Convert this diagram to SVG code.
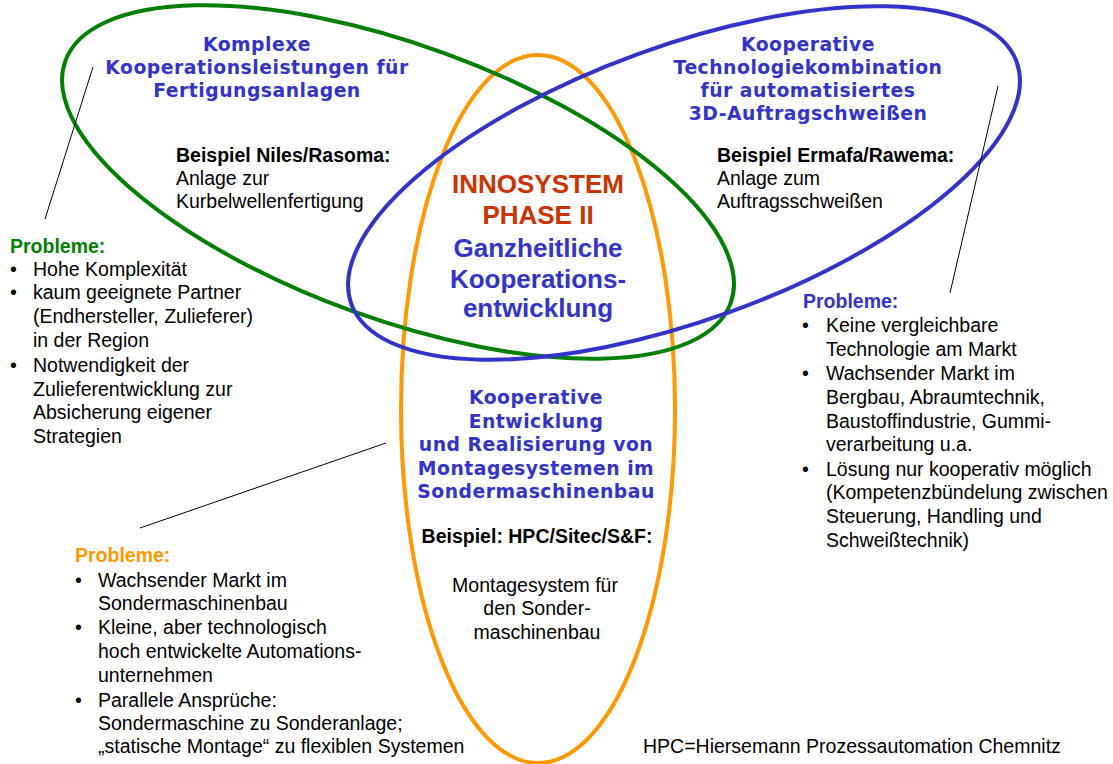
<svg xmlns="http://www.w3.org/2000/svg" width="1113" height="764" viewBox="0 0 1113 764">
<style>
.bg{fill:#ffffff}
.ell{fill:none;stroke-width:4}
.g{stroke:#008000}
.b{stroke:#3333cc}
.o{stroke:#ff9900}
.ln{stroke:#000000;stroke-width:1;fill:none}
.t{font-family:"Liberation Sans",Arial,sans-serif;font-size:19.5px;fill:#000000}
.tb{font-family:"Liberation Sans",Arial,sans-serif;font-size:19.5px;font-weight:bold;fill:#000000}
.ti{font-family:"DejaVu Sans",Verdana,sans-serif;font-size:18.8px;font-weight:bold;fill:#3333cc;letter-spacing:0.5px;text-anchor:middle}
.big{font-family:"Liberation Sans",Arial,sans-serif;font-size:26px;font-weight:bold;text-anchor:middle}
.red{fill:#cc3300}
.blu{fill:#3333cc}
.hg{fill:#008000}
.hb{fill:#3333cc}
.ho{fill:#ff9900}
.mid{text-anchor:middle}
</style>
<rect class="bg" x="0" y="0" width="1113" height="764"/>

<g id="ellipse-orange">
<ellipse class="ell o" cx="538" cy="409" rx="137" ry="354"/>
</g>
<g id="ellipse-green">
<ellipse class="ell g" cx="398" cy="182" rx="354" ry="137" transform="rotate(20 398 182)"/>
</g>
<g id="ellipse-blue">
<ellipse class="ell b" cx="684" cy="183" rx="354" ry="137" transform="rotate(-20 684 183)"/>
</g>

<g id="connectors">
<line class="ln" x1="93" y1="67" x2="45" y2="219"/>
<line class="ln" x1="998" y1="86" x2="950" y2="293"/>
<line class="ln" x1="386" y1="443" x2="140" y2="528"/>
</g>

<g id="node-fertigung">
<text class="ti" x="257" y="51">Komplexe</text>
<text class="ti" x="257" y="74">Kooperationsleistungen für</text>
<text class="ti" x="257" y="97">Fertigungsanlagen</text>
<text class="tb" x="176" y="162">Beispiel Niles/Rasoma:</text>
<text class="t" x="176" y="185">Anlage zur</text>
<text class="t" x="176" y="208">Kurbelwellenfertigung</text>
</g>

<g id="node-schweissen">
<text class="ti" x="808" y="51">Kooperative</text>
<text class="ti" x="808" y="74">Technologiekombination</text>
<text class="ti" x="808" y="97">für automatisiertes</text>
<text class="ti" x="808" y="120">3D-Auftragschweißen</text>
<text class="tb" x="717" y="162">Beispiel Ermafa/Rawema:</text>
<text class="t" x="717" y="185">Anlage zum</text>
<text class="t" x="717" y="208">Auftragsschweißen</text>
</g>

<g id="node-center">
<text class="big red" x="538" y="193">INNOSYSTEM</text>
<text class="big red" x="538" y="224">PHASE II</text>
<text class="big blu" x="538" y="257">Ganzheitliche</text>
<text class="big blu" x="538" y="288">Kooperations-</text>
<text class="big blu" x="538" y="317">entwicklung</text>
</g>

<g id="node-montage">
<text class="ti" x="536" y="404">Kooperative</text>
<text class="ti" x="536" y="428">Entwicklung</text>
<text class="ti" x="536" y="451">und Realisierung von</text>
<text class="ti" x="536" y="475">Montagesystemen im</text>
<text class="ti" x="536" y="498">Sondermaschinenbau</text>
<text class="tb mid" x="537" y="543">Beispiel: HPC/Sitec/S&amp;F:</text>
<text class="t mid" x="535" y="592">Montagesystem für</text>
<text class="t mid" x="537" y="615">den Sonder-</text>
<text class="t mid" x="537" y="639">maschinenbau</text>
</g>

<g id="node-probleme-links">
<text class="tb hg" x="10" y="253">Probleme:</text>
<text class="t" x="10" y="276">•</text><text class="t" x="33" y="276">Hohe Komplexität</text>
<text class="t" x="10" y="299">•</text><text class="t" x="33" y="299">kaum geeignete Partner</text>
<text class="t" x="33" y="323">(Endhersteller, Zulieferer)</text>
<text class="t" x="33" y="347">in der Region</text>
<text class="t" x="10" y="372">•</text><text class="t" x="33" y="372">Notwendigkeit der</text>
<text class="t" x="33" y="396">Zulieferentwicklung zur</text>
<text class="t" x="33" y="419">Absicherung eigener</text>
<text class="t" x="33" y="443">Strategien</text>
</g>

<g id="node-probleme-rechts">
<text class="tb hb" x="803" y="308">Probleme:</text>
<text class="t" x="802" y="332">•</text><text class="t" x="826" y="332">Keine vergleichbare</text>
<text class="t" x="826" y="356">Technologie am Markt</text>
<text class="t" x="802" y="380">•</text><text class="t" x="826" y="380">Wachsender Markt im</text>
<text class="t" x="826" y="404">Bergbau, Abraumtechnik,</text>
<text class="t" x="826" y="428">Baustoffindustrie, Gummi-</text>
<text class="t" x="826" y="451">verarbeitung u.a.</text>
<text class="t" x="802" y="476">•</text><text class="t" x="826" y="476">Lösung nur kooperativ möglich</text>
<text class="t" x="826" y="499">(Kompetenzbündelung zwischen</text>
<text class="t" x="826" y="523">Steuerung, Handling und</text>
<text class="t" x="826" y="547">Schweißtechnik)</text>
</g>

<g id="node-probleme-unten">
<text class="tb ho" x="75" y="562">Probleme:</text>
<text class="t" x="75" y="587">•</text><text class="t" x="98" y="587">Wachsender Markt im</text>
<text class="t" x="98" y="610">Sondermaschinenbau</text>
<text class="t" x="75" y="634">•</text><text class="t" x="98" y="634">Kleine, aber technologisch</text>
<text class="t" x="98" y="658">hoch entwickelte Automations-</text>
<text class="t" x="98" y="682">unternehmen</text>
<text class="t" x="75" y="707">•</text><text class="t" x="98" y="707">Parallele Ansprüche:</text>
<text class="t" x="98" y="730">Sondermaschine zu Sonderanlage;</text>
<text class="t" x="98" y="753">„statische Montage“ zu flexiblen Systemen</text>
</g>

<g id="node-legende">
<text class="t" x="643" y="753">HPC=Hiersemann Prozessautomation Chemnitz</text>
</g>
</svg>
